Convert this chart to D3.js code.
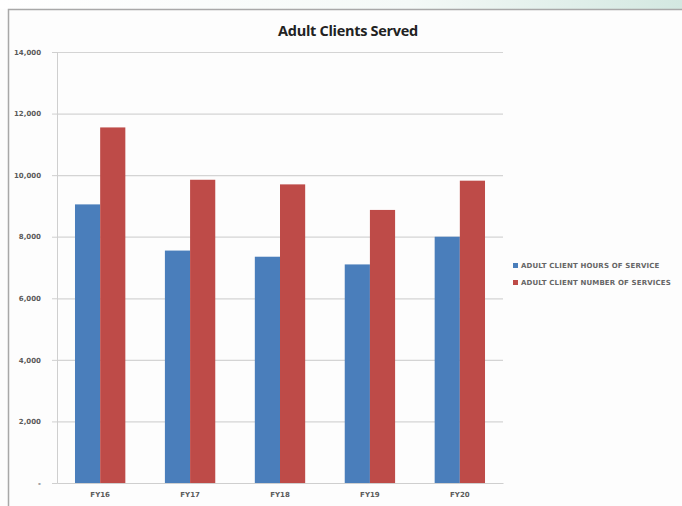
<!DOCTYPE html>
<html>
<head>
<meta charset="utf-8">
<script src="https://cdn.jsdelivr.net/npm/d3@7"></script>
<style>
  body { margin: 0; background: #fdfdfd; }
  svg { display: block; font-family: "Open Sans", "DejaVu Sans", sans-serif; }
  .small { font-family: "DejaVu Sans", sans-serif; }
</style>
</head>
<body>
<svg id="chart" width="682" height="506"></svg>
<script>
// chart data
var years = ['FY16', 'FY17', 'FY18', 'FY19', 'FY20'];
var seriesNames = ['ADULT CLIENT HOURS OF SERVICE', 'ADULT CLIENT NUMBER OF SERVICES'];
var hoursOfService = [9050, 7550, 7350, 7100, 8000];
var numberOfServices = [11550, 9850, 9700, 8870, 9820];
var yTicks = [0, 2000, 4000, 6000, 8000, 10000, 12000, 14000];
var colors = ['#4a7ebb', '#be4b48'];

var svg = d3.select('#chart');
var margin = { top: 52, left: 57, right: 179, bottom: 23 };
var width = 682, height = 506;

// page background strip + chart frame
var defs = svg.append('defs');
var grad = defs.append('linearGradient').attr('id', 'topband');
grad.append('stop').attr('offset', '0%').attr('stop-color', '#ffffff');
grad.append('stop').attr('offset', '60%').attr('stop-color', '#f4f9f7');
grad.append('stop').attr('offset', '100%').attr('stop-color', '#d3e8e1');
svg.append('rect').attr('x', 0).attr('y', 0).attr('width', width).attr('height', 9)
  .style('fill', 'url(#topband)');
svg.append('rect').attr('x', 8).attr('y', 9).attr('width', width - 8).attr('height', height - 9)
  .style('fill', '#fdfdfd');
svg.append('path').attr('d', 'M8.5,' + height + 'V9.5H' + width)
  .style('fill', 'none').style('stroke', '#a8a8a8').style('stroke-width', 1.5);

var x0 = d3.scaleBand().domain(years)
  .range([margin.left, width - margin.right]).paddingInner(0.44).paddingOuter(0.2);
var x1 = d3.scaleBand().domain([0, 1]).range([0, x0.bandwidth()]);
var y = d3.scaleLinear().domain([0, 14000]).range([height - margin.bottom, margin.top]);

// gridlines
svg.append('g').selectAll('line').data(yTicks.slice(1)).enter().append('line')
  .attr('x1', margin.left).attr('x2', width - margin.right)
  .attr('y1', d => y(d) + 0.5).attr('y2', d => y(d) + 0.5)
  .style('stroke', '#d4d4d4').style('stroke-width', 1.2);

// y axis
var yAxis = svg.append('g')
  .attr('transform', 'translate(' + margin.left + ',0)')
  .call(d3.axisLeft(y).tickValues(yTicks).tickSize(5).tickPadding(11)
    .tickFormat(d => d == 0 ? '-' : d3.format(',')(d)));
yAxis.select('.domain').style('stroke', '#cfcfcf');
yAxis.selectAll('.tick line').style('stroke', '#cfcfcf');
yAxis.selectAll('text').attr('class', 'small')
  .style('font-size', '7px').style('fill', '#5a5a5a').style('font-weight', 'bold');

// bars
var groups = svg.append('g').selectAll('g').data(years).enter().append('g')
  .attr('transform', d => 'translate(' + x0(d) + ',0)');
groups.selectAll('rect')
  .data((d, i) => [hoursOfService[i], numberOfServices[i]])
  .enter().append('rect')
  .attr('x', (d, j) => x1(j))
  .attr('y', d => y(d))
  .attr('width', x1.bandwidth())
  .attr('height', d => y(0) - y(d))
  .style('fill', (d, j) => colors[j]);

// x axis
var xAxis = svg.append('g')
  .attr('transform', 'translate(0,' + y(0) + ')')
  .call(d3.axisBottom(x0).tickSize(0).tickPadding(9));
xAxis.select('.domain').style('stroke', '#cfcfcf');
xAxis.selectAll('text').attr('class', 'small')
  .style('font-size', '7px').style('fill', '#5a5a5a').style('font-weight', 'bold');

// title
svg.append('text')
  .attr('x', 348).attr('y', 36)
  .attr('text-anchor', 'middle')
  .style('font-size', '14.5px').style('font-weight', 'bold').style('fill', '#222')
  .style('letter-spacing', '-0.3px')
  .text('Adult Clients Served');

// legend
var legend = svg.append('g').selectAll('g').data(seriesNames).enter().append('g')
  .attr('transform', (d, i) => 'translate(513,' + (266 + i * 17) + ')');
legend.append('rect').attr('x', 0).attr('y', -3).attr('width', 5).attr('height', 5)
  .style('fill', (d, i) => colors[i]);
legend.append('text').attr('class', 'small').attr('x', 8).attr('y', 2)
  .style('font-size', '7px').style('font-weight', 'bold').style('fill', '#666')
  .style('letter-spacing', '0.15px')
  .text(d => d);
</script>
</body>
</html>
